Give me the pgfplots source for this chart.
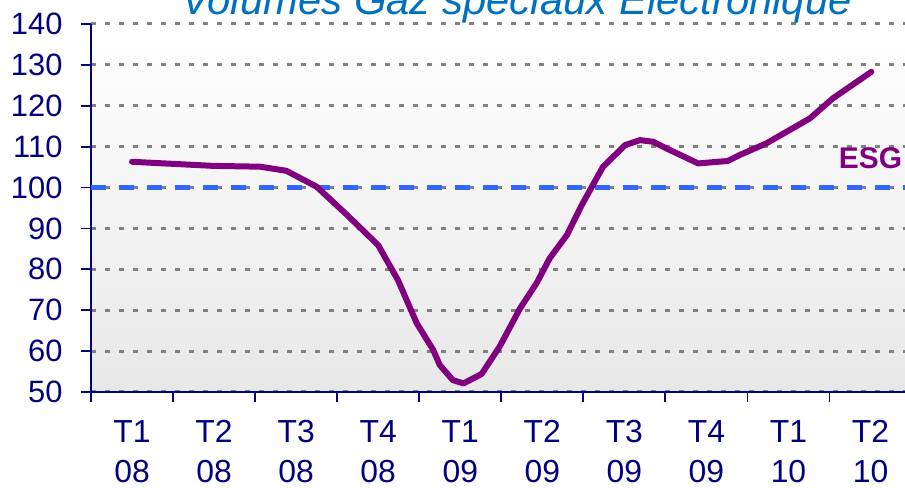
\documentclass[border=0pt]{standalone}
\usepackage{fontspec}
\setmainfont{Liberation Sans}
\usepackage{pgfplots}
\pgfplotsset{compat=1.18}
\definecolor{navy}{RGB}{0,0,128}
\definecolor{purp}{RGB}{128,0,128}
\definecolor{dashblue}{RGB}{51,102,255}
\definecolor{titleblue}{RGB}{0,112,192}
\definecolor{gridgray}{RGB}{128,128,128}
\begin{document}
\begin{tikzpicture}
\begin{axis}[
  scale only axis, width=814bp, height=368bp,
  xmin=0.5, xmax=10.42, ymin=50, ymax=140,
  axis x line*=bottom, axis y line*=left,
  axis line style={navy, line width=1.8bp},
  ytick={50,60,...,140},
  xtick={0.5,1.5,...,9.5},
  xticklabels={},
  extra x ticks={1,2,...,10},
  extra x tick labels={{T1\\08},{T2\\08},{T3\\08},{T4\\08},{T1\\09},{T2\\09},{T3\\09},{T4\\09},{T1\\10},{T2\\10}},
  extra x tick style={major tick length=0pt},
  x tick label style={align=center, font=\fontsize{32}{40}\selectfont, text=navy, yshift=-25bp},
  y tick label style={font=\fontsize{31}{36}\selectfont, text=navy, xshift=-15bp},
  tick align=outside,
  major tick length=10bp,
  tick style={navy, line width=1.8bp},
  ymajorgrids,
  major grid style={gridgray, line width=3bp, dash pattern=on 5bp off 9bp},
  axis background/.style={top color=white, bottom color=gray!18},
  /pgf/number format/assume math mode=true,
]
\addplot[dashblue, line width=4.3bp, dash pattern=on 15bp off 13bp] coordinates {(0.5,100) (10.42,100)};
\addplot[purp, line width=6bp, line cap=round, line join=round] coordinates {
(1.00,106.3) (1.99,105.3) (2.56,105.1) (2.88,104.1) (3.25,100.2) (3.62,93.3)
(4.00,85.9) (4.24,77.4) (4.47,66.8) (4.67,60.3) (4.75,56.6) (4.91,52.9)
(5.04,52.1) (5.26,54.4) (5.48,61.1) (5.73,70.5) (5.93,76.6) (6.09,82.7)
(6.30,88.4) (6.48,95.7) (6.74,105.1) (7.01,110.4) (7.19,111.6) (7.35,111.2)
(7.51,109.6) (7.90,105.9) (8.26,106.5) (8.41,108.0) (8.73,110.8) (9.26,116.9)
(9.54,121.8) (10.01,128.3)};
\node[anchor=center, font=\fontsize{30}{36}\selectfont\bfseries, text=purp] at (axis cs:10.0,107.1) {ESG};
\coordinate (SW) at (rel axis cs:0,0);
\coordinate (NE) at (rel axis cs:1,1);
\end{axis}
\path (SW) ++(425.5bp,377bp) node[anchor=base, inner sep=0pt, font=\fontsize{42}{50}\selectfont\itshape, text=titleblue] {Volumes Gaz spéciaux Electronique};
\pgfresetboundingbox
\useasboundingbox ([xshift=-91bp,yshift=-96bp]SW) rectangle ([yshift=24bp]NE);
\end{tikzpicture}
\end{document}
